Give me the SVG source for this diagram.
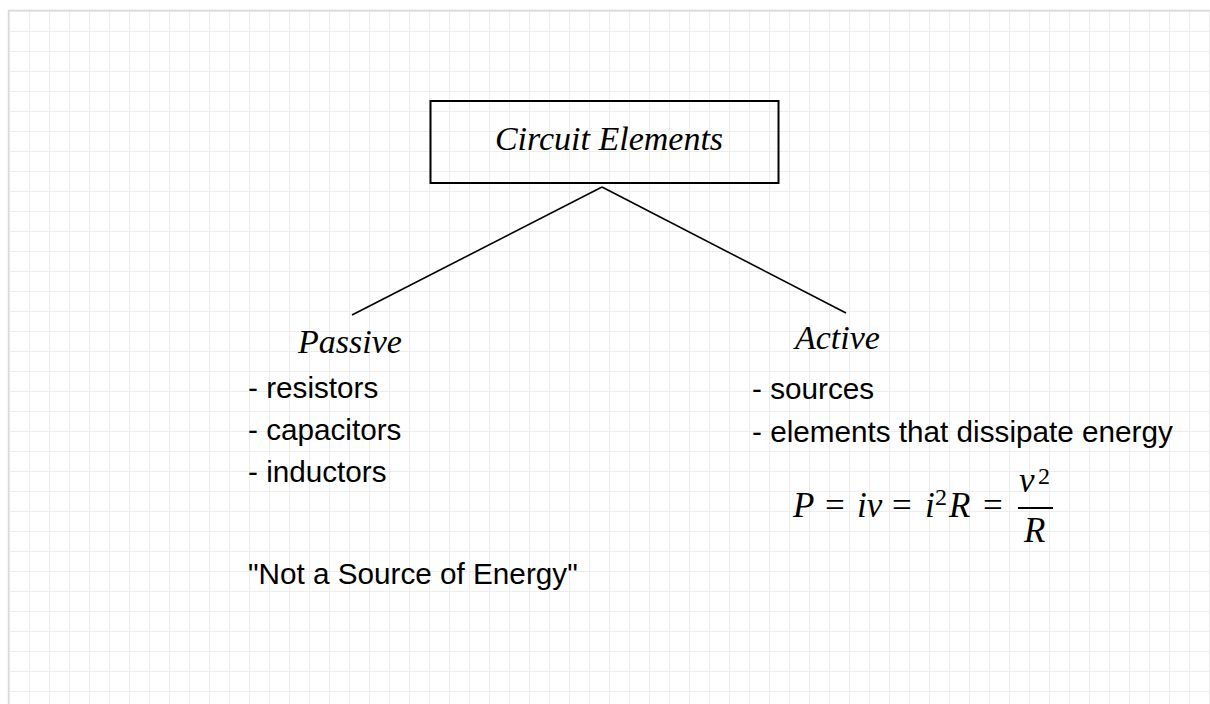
<svg xmlns="http://www.w3.org/2000/svg" width="1210" height="704" viewBox="0 0 1210 704">
<style>
.title{font-family:"Liberation Serif",serif;font-style:italic;font-size:34px;fill:#000}
.lbl{font-family:"Liberation Serif",serif;font-style:italic;font-size:34px;fill:#000}
.item{font-family:"Liberation Sans",Arial,sans-serif;font-size:29.7px;fill:#000}
.m{font-family:"Liberation Serif",serif;font-style:italic;font-size:35px;fill:#000}
.mu{font-family:"Liberation Serif",serif;font-size:35px;fill:#000}
.sup{font-family:"Liberation Serif",serif;font-size:24px;fill:#000}
.conn{stroke:#000;stroke-width:1.6;fill:none}
</style>
<defs>
<pattern id="grid" x="9" y="11" width="20" height="20" patternUnits="userSpaceOnUse">
<path d="M0 0H20M0 0V20" stroke="#ededed" stroke-width="2.2" fill="none"/>
</pattern>
</defs>
<rect width="1210" height="704" fill="#fff"/>
<rect x="9" y="11" width="1201" height="693" fill="url(#grid)"/>
<path d="M8.5 704V10.5H1210" stroke="#d9d9d9" stroke-width="1.5" fill="none"/>
<g id="connectors">
<line class="conn" x1="602" y1="187" x2="352" y2="315"/>
<line class="conn" x1="602" y1="187" x2="846" y2="313"/>
</g>
<g id="circuit-elements">
<rect x="430.5" y="101" width="348" height="82" fill="none" stroke="#000" stroke-width="2"/>
<text class="title" x="609" y="150" text-anchor="middle">Circuit Elements</text>
</g>
<g id="passive">
<text class="lbl" x="298" y="353">Passive</text>
<text class="item" x="248" y="398">- resistors</text>
<text class="item" x="248" y="440">- capacitors</text>
<text class="item" x="248" y="482">- inductors</text>
<text class="item" x="248" y="584">"Not a Source of Energy"</text>
</g>
<g id="active">
<text class="lbl" x="795" y="349">Active</text>
<text class="item" x="752" y="399">- sources</text>
<text class="item" x="752" y="442">- elements that dissipate energy</text>
</g>
<g id="equation">
<text class="m" x="793" y="517">P</text>
<text class="mu" x="825" y="517">=</text>
<text class="m" x="857" y="517">iv</text>
<text class="mu" x="892" y="517">=</text>
<text class="m" x="925" y="517">i</text>
<text class="sup" x="935" y="505">2</text>
<text class="m" x="949" y="517">R</text>
<text class="mu" x="983" y="517">=</text>
<text class="m" x="1019" y="492">v</text>
<text class="sup" x="1038" y="484">2</text>
<line x1="1018" y1="508" x2="1053" y2="508" stroke="#000" stroke-width="2.2"/>
<text class="m" x="1024" y="542">R</text>
</g>
</svg>
